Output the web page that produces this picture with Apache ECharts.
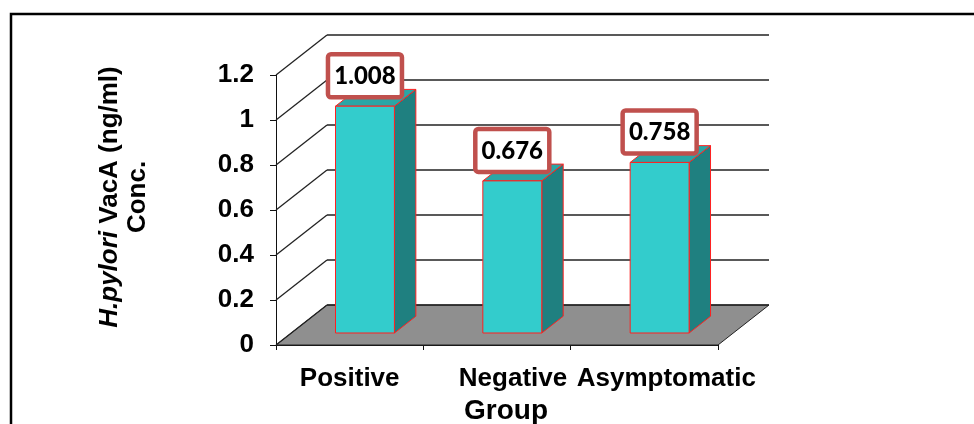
<!DOCTYPE html>
<html>
<head>
<meta charset="utf-8">
<script src="https://cdn.jsdelivr.net/npm/echarts@6/dist/echarts.min.js"></script>
<style>
  html, body { margin: 0; padding: 0; background: #fff; }
  #chart { width: 974px; height: 424px; }
</style>
</head>
<body>
<div id="chart"></div>
<script>
// Groups and mean VacA concentration (ng/ml)
const categories = ['Positive', 'Negative', 'Asymptomatic'];
const vacaConc = [1.008, 0.676, 0.758];
const yTicks = [0, 0.2, 0.4, 0.6, 0.8, 1.0, 1.2];

// Oblique projection of the depth axis (pixels for full floor depth)
const DEPTH = [51, -40];
const BAR_FRONT = 0.3;   // where the bar front face sits along the depth
const BAR_DEPTH = 0.42;  // bar thickness along the depth
const BAR_WIDTH = 0.4;   // fraction of the category band

const FRONT = '#33CCCC', SIDE = '#1F8080', TOP = '#2AA6A6', EDGE = '#FF2020';
const BOX = '#C0504D';

const chart = echarts.init(document.getElementById('chart'), null, { renderer: 'canvas' });

function wallItem(params, api) {
  const cs = params.coordSys;
  const y = api.coord([0, api.value(1)])[1];
  const x0 = cs.x, x1 = cs.x + cs.width;
  const lineStyle = { stroke: '#222', lineWidth: 1.3 };
  return {
    type: 'group',
    children: [
      { type: 'line', shape: { x1: x0, y1: y, x2: x0 + DEPTH[0], y2: y + DEPTH[1] }, style: lineStyle },
      { type: 'line', shape: { x1: x0 + DEPTH[0], y1: y + DEPTH[1], x2: x1 + DEPTH[0], y2: y + DEPTH[1] }, style: lineStyle }
    ]
  };
}

function floorItem(params, api) {
  const cs = params.coordSys;
  const y = api.coord([0, 0])[1];
  const x0 = cs.x, x1 = cs.x + cs.width;
  return {
    type: 'polygon',
    shape: { points: [[x0, y], [x0 + DEPTH[0], y + DEPTH[1]], [x1 + DEPTH[0], y + DEPTH[1]], [x1, y]] },
    style: { fill: '#8F8F8F', stroke: '#222', lineWidth: 1 }
  };
}

function barItem(params, api) {
  const idx = api.value(0), v = api.value(1);
  const base = api.coord([idx, 0]);
  const top = api.coord([idx, v]);
  const w = api.size([1, 0])[0] * BAR_WIDTH;
  const ox = DEPTH[0] * BAR_FRONT, oy = DEPTH[1] * BAR_FRONT;
  const sx = DEPTH[0] * BAR_DEPTH, sy = DEPTH[1] * BAR_DEPTH;
  const cx = base[0] + ox;
  const xl = cx - w / 2, xr = cx + w / 2;
  const yb = base[1] + oy, yt = top[1] + oy;
  const edge = { stroke: EDGE, lineWidth: 1 };
  const label = v.toFixed(3);
  return {
    type: 'group',
    children: [
      { type: 'polygon', shape: { points: [[xr, yt], [xr + sx, yt + sy], [xr + sx, yb + sy], [xr, yb]] },
        style: Object.assign({ fill: SIDE }, edge) },
      { type: 'polygon', shape: { points: [[xl, yt], [xl + sx, yt + sy], [xr + sx, yt + sy], [xr, yt]] },
        style: Object.assign({ fill: TOP }, edge) },
      { type: 'rect', shape: { x: cx - 37, y: yt - 52, width: 74, height: 43, r: 3 },
        style: { fill: '#fff', stroke: BOX, lineWidth: 4.5 } },
      { type: 'rect', shape: { x: xl, y: yt, width: w, height: yb - yt },
        style: Object.assign({ fill: FRONT }, edge) },
      { type: 'text', x: cx, y: yt - 30,
        style: { text: label, fill: '#000', font: '900 24px Lato, "Open Sans", sans-serif',
                 align: 'center', verticalAlign: 'middle' } }
    ]
  };
}

const labelFont = { fontFamily: '"Liberation Sans", Arial, sans-serif', fontWeight: 'bold', fontSize: 26, color: '#000' };

chart.setOption({
  backgroundColor: '#fff',
  animation: false,
  grid: { left: 276, top: 75, width: 442, height: 270, outerBoundsMode: 'none', containLabel: false },
  xAxis: {
    type: 'category',
    data: categories,
    boundaryGap: true,
    name: 'Group',
    nameLocation: 'middle',
    nameGap: 50,
    nameTextStyle: Object.assign({}, labelFont, { fontSize: 28, padding: [0, 0, 0, 18] }),
    axisLine: { show: true, lineStyle: { color: '#111', width: 1 } },
    axisTick: { show: true, length: 5, alignWithLabel: false, lineStyle: { color: '#111' } },
    axisLabel: {
      interval: 0,
      margin: 21,
      formatter: (v, i) => `{c${i}|${v}}`,
      rich: {
        c0: Object.assign({}, labelFont, { padding: [0, 0, 0, 0] }),
        c1: Object.assign({}, labelFont, { padding: [0, 0, 0, 32] }),
        c2: Object.assign({}, labelFont, { padding: [0, 0, 0, 44] })
      }
    },
    splitLine: { show: false }
  },
  yAxis: {
    type: 'value',
    min: 0,
    max: 1.2,
    interval: 0.2,
    axisLine: { show: true, lineStyle: { color: '#111', width: 1 } },
    axisTick: { show: true, length: 6, lineStyle: { color: '#111' } },
    axisLabel: Object.assign({ margin: 22, formatter: v => String(+v.toFixed(1)) }, labelFont, { fontSize: 26 }),
    splitLine: { show: false }
  },
  graphic: [
    { type: 'rect', shape: { x: 11, y: 14, width: 1000, height: 1000 },
      style: { fill: 'none', stroke: '#000', lineWidth: 2.5 }, z: 100 },
    { type: 'text', x: 124, y: 197, rotation: Math.PI / 2,
      style: {
        text: '{i|H.pylori}{n| VacA (ng/ml)}\n{n|Conc.}',
        align: 'center', verticalAlign: 'middle',
        rich: {
          i: { font: 'italic bold 26px "Liberation Sans", Arial, sans-serif', fill: '#000', lineHeight: 28 },
          n: { font: 'bold 26px "Liberation Sans", Arial, sans-serif', fill: '#000', lineHeight: 28 }
        }
      } }
  ],
  series: [
    { type: 'custom', name: 'floor', coordinateSystem: 'cartesian2d', clip: false, z: 1,
      renderItem: floorItem, data: [[0, 0]], silent: true },
    { type: 'custom', name: 'wall', coordinateSystem: 'cartesian2d', clip: false, z: 1,
      renderItem: wallItem, data: yTicks.map(v => [0, v]), silent: true },
    { type: 'custom', name: 'VacA', coordinateSystem: 'cartesian2d', clip: false, z: 3,
      renderItem: barItem, data: vacaConc.map((v, i) => [i, v]) }
  ]
});
</script>
</body>
</html>
